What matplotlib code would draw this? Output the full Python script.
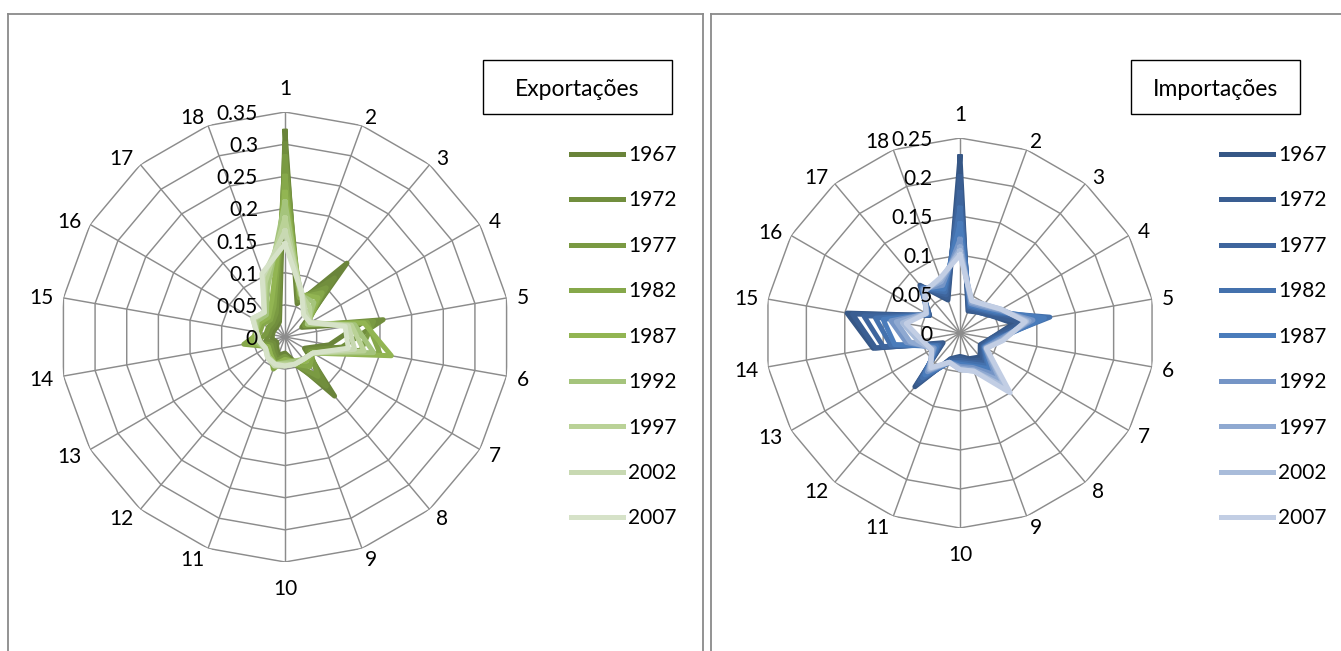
import numpy as np
import matplotlib
matplotlib.use("Agg")
import matplotlib.pyplot as plt
from matplotlib.patches import Rectangle
from matplotlib.lines import Line2D

plt.rcParams['font.family'] = ['Lato', 'DejaVu Sans']

categorias = [str(i) for i in range(1, 19)]
anos = ['1967', '1972', '1977', '1982', '1987', '1992', '1997', '2002', '2007']

# exportações por categoria (1..18), uma linha por ano
exp_1967 = [0.320, 0.055, 0.150, 0.030, 0.120, 0.070, 0.035, 0.120, 0.040, 0.025, 0.030, 0.020, 0.015, 0.020, 0.020, 0.020, 0.020, 0.025]
exp_1972 = [0.300, 0.060, 0.120, 0.035, 0.155, 0.090, 0.040, 0.100, 0.045, 0.030, 0.035, 0.025, 0.020, 0.030, 0.025, 0.025, 0.025, 0.030]
exp_1977 = [0.280, 0.065, 0.100, 0.035, 0.140, 0.120, 0.045, 0.080, 0.045, 0.030, 0.040, 0.030, 0.025, 0.045, 0.030, 0.030, 0.030, 0.040]
exp_1982 = [0.250, 0.065, 0.090, 0.040, 0.130, 0.150, 0.050, 0.060, 0.045, 0.035, 0.053, 0.035, 0.030, 0.065, 0.040, 0.040, 0.035, 0.050]
exp_1987 = [0.225, 0.070, 0.080, 0.040, 0.125, 0.168, 0.050, 0.050, 0.040, 0.035, 0.045, 0.035, 0.030, 0.055, 0.045, 0.045, 0.040, 0.060]
exp_1992 = [0.210, 0.070, 0.070, 0.040, 0.110, 0.140, 0.050, 0.045, 0.040, 0.040, 0.045, 0.040, 0.035, 0.045, 0.045, 0.050, 0.045, 0.080]
exp_1997 = [0.185, 0.072, 0.060, 0.045, 0.105, 0.125, 0.050, 0.045, 0.045, 0.042, 0.045, 0.040, 0.035, 0.040, 0.045, 0.055, 0.050, 0.090]
exp_2002 = [0.165, 0.075, 0.050, 0.045, 0.100, 0.110, 0.050, 0.045, 0.045, 0.045, 0.048, 0.042, 0.035, 0.040, 0.045, 0.058, 0.050, 0.100]
exp_2007 = [0.145, 0.075, 0.045, 0.045, 0.095, 0.100, 0.050, 0.045, 0.045, 0.045, 0.045, 0.042, 0.035, 0.040, 0.045, 0.058, 0.050, 0.105]

# importações
imp_1967 = [0.226, 0.030, 0.035, 0.045, 0.070, 0.040, 0.030, 0.040, 0.035, 0.030, 0.035, 0.090, 0.025, 0.113, 0.147, 0.045, 0.080, 0.045]
imp_1972 = [0.200, 0.032, 0.035, 0.045, 0.080, 0.040, 0.032, 0.045, 0.038, 0.032, 0.036, 0.085, 0.027, 0.110, 0.140, 0.045, 0.078, 0.048]
imp_1977 = [0.180, 0.034, 0.038, 0.050, 0.100, 0.042, 0.034, 0.050, 0.040, 0.035, 0.038, 0.080, 0.030, 0.100, 0.125, 0.046, 0.077, 0.052]
imp_1982 = [0.160, 0.036, 0.040, 0.052, 0.117, 0.045, 0.035, 0.055, 0.042, 0.038, 0.040, 0.075, 0.032, 0.090, 0.110, 0.047, 0.076, 0.056]
imp_1987 = [0.140, 0.038, 0.042, 0.055, 0.110, 0.048, 0.036, 0.060, 0.045, 0.040, 0.040, 0.070, 0.035, 0.085, 0.100, 0.048, 0.075, 0.060]
imp_1992 = [0.120, 0.040, 0.044, 0.058, 0.095, 0.050, 0.037, 0.070, 0.047, 0.043, 0.040, 0.065, 0.038, 0.070, 0.090, 0.049, 0.074, 0.065]
imp_1997 = [0.110, 0.042, 0.046, 0.060, 0.090, 0.053, 0.038, 0.080, 0.050, 0.045, 0.040, 0.062, 0.040, 0.065, 0.083, 0.050, 0.072, 0.070]
imp_2002 = [0.105, 0.044, 0.048, 0.061, 0.087, 0.055, 0.039, 0.090, 0.052, 0.047, 0.040, 0.060, 0.042, 0.055, 0.075, 0.050, 0.071, 0.073]
imp_2007 = [0.100, 0.044, 0.048, 0.061, 0.085, 0.056, 0.039, 0.100, 0.052, 0.047, 0.040, 0.058, 0.042, 0.050, 0.070, 0.050, 0.070, 0.075]

exportacoes = [exp_1967, exp_1972, exp_1977, exp_1982, exp_1987, exp_1992, exp_1997, exp_2002, exp_2007]
importacoes = [imp_1967, imp_1972, imp_1977, imp_1982, imp_1987, imp_1992, imp_1997, imp_2002, imp_2007]

verdes = ['#6a843a', '#718e3d', '#7a9a42', '#86a84a', '#92b552', '#a5c47c', '#bad297', '#c8d9b2', '#d6e2c8']
azuis = ['#365786', '#3a5e92', '#3e659d', '#4471ad', '#4a7cbb', '#7595c6', '#8fa9d1', '#a9bcda', '#c2cee4']

GRID = '#8c8c8c'
FS = 15

fig = plt.figure(figsize=(13.41, 6.51), dpi=100)
W, H = 1341, 651
PT = 72 / 100  # pixels -> points


def px(x, y):
    return x / W, 1 - y / H


# molduras dos dois gráficos
for x0, x1 in [(8, 703), (711, 1400)]:
    fig.add_artist(Line2D([x0 / W, x0 / W], [1 - 14 / H, -0.1], color='#8a8a8a', lw=1.3))
    fig.add_artist(Line2D([x0 / W, x1 / W], [1 - 14 / H, 1 - 14 / H], color='#8a8a8a', lw=1.3))
    fig.add_artist(Line2D([x1 / W, x1 / W], [1 - 14 / H, -0.1], color='#8a8a8a', lw=1.3))


def radar(cx, cy, rad, rmax, dados, cores, titulo, caixa, leg_xy):
    ax = fig.add_axes([(cx - rad) / W, (H - cy - rad) / H, 2 * rad / W, 2 * rad / H],
                      projection='polar')
    ax.set_theta_zero_location('N')
    ax.set_theta_direction(-1)
    ax.set_ylim(0, rmax)
    ax.grid(False)
    ax.spines['polar'].set_visible(False)
    ax.set_xticks([])
    ax.set_yticks([])
    ax.patch.set_visible(False)

    n = len(categorias)
    ang = np.arange(n) * 2 * np.pi / n
    ang_f = np.append(ang, ang[0])
    niveis = np.arange(0.05, rmax + 1e-9, 0.05)
    for lv in niveis:
        ax.plot(ang_f, np.full(n + 1, lv), color=GRID, lw=1.05, zorder=1)
    for a in ang:
        ax.plot([a, a], [0, rmax], color=GRID, lw=1.05, zorder=1)

    for serie, cor, ano in zip(dados, cores, anos):
        v = np.append(serie, serie[0])
        ax.plot(ang_f, v, color=cor, lw=3.6, label=ano, zorder=2,
                solid_joinstyle='round')

    # rótulos das categorias junto aos vértices do polígono exterior
    for a, c in zip(ang, categorias):
        s, co = np.sin(a), np.cos(a)
        if abs(s) < 0.05:
            d = 25
            ha = 'center'
        else:
            d = 10
            ha = 'left' if s > 0 else 'right'
        ax.annotate(c, xy=(a, rmax), xytext=(d * s * PT, d * co * PT),
                    textcoords='offset points', ha=ha, va='center_baseline',
                    fontsize=FS)

    for lv in np.append(0, niveis):
        ax.annotate(f'{lv:g}', xy=(0, lv), xytext=(-27 * PT, 0), textcoords='offset points',
                    ha='right', va='center_baseline', fontsize=FS, zorder=3)

    x0, y0, x1, y1 = caixa
    fig.add_artist(Rectangle(px(x0, y1), (x1 - x0) / W, (y1 - y0) / H,
                             fill=False, ec='black', lw=1.0))
    fig.text(*px((x0 + x1) / 2, (y0 + y1) / 2 + 1), titulo, ha='center',
             va='center_baseline', fontsize=FS + 1.5)

    h, l = ax.get_legend_handles_labels()
    fig.legend(h, l, loc='upper left', bbox_to_anchor=px(*leg_xy), frameon=False,
               fontsize=FS, handlelength=2.5, handletextpad=0.25, labelspacing=1.22,
               borderpad=0, borderaxespad=0)
    return ax


radar(285, 337, 225, 0.35, exportacoes, verdes, 'Exportações', (483, 60, 672, 114), (571, 145))
radar(960, 333, 195, 0.25, importacoes, azuis, 'Importações', (1131, 60, 1300, 114), (1221, 145))

fig.savefig('out.png', dpi=100)
